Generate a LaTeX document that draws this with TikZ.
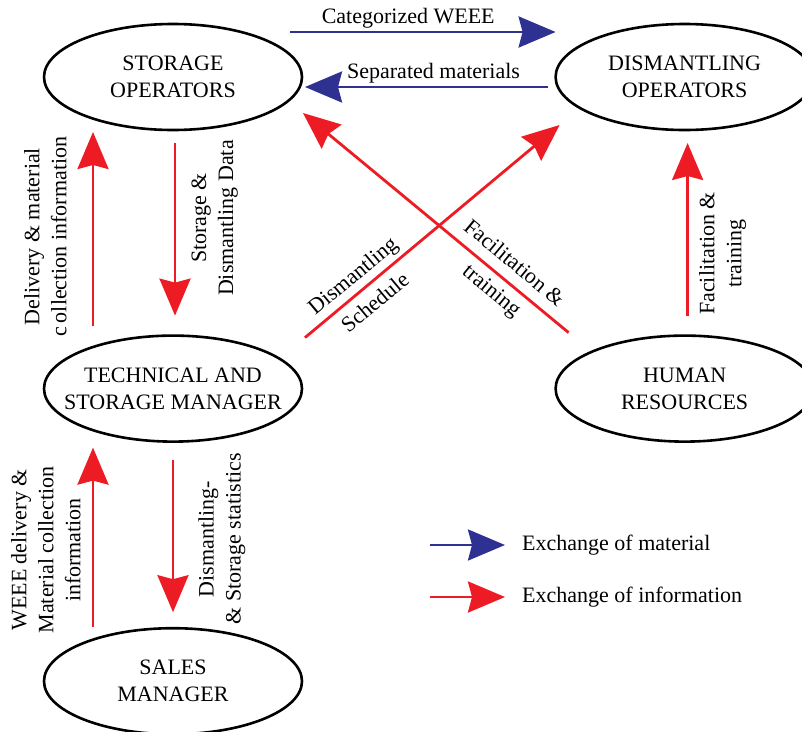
\documentclass[tikz,border=0pt]{standalone}
\usepackage{fontspec}
\setmainfont{Liberation Serif}
\usepackage{tikz}
\usetikzlibrary{arrows.meta,positioning,shapes.geometric}
\definecolor{matblue}{RGB}{46,49,146}
\definecolor{infored}{RGB}{237,28,36}

\begin{document}
\begin{tikzpicture}[
  x=1pt, y=-1pt,
  node distance=203pt and 251pt,
  actor/.style={draw, ellipse, line width=2.6pt, align=center, inner sep=0pt,
    minimum width=258pt, minimum height=106pt, font=\fontsize{22}{27}\selectfont},
  lbl/.style={align=center, inner sep=0pt, font=\fontsize{22}{27}\selectfont},
  uplbl/.style={lbl, rotate=90},
  matflow/.style={-{Stealth[length=37pt, width=31pt, inset=4pt]}, line width=2.8pt, draw=matblue},
  infoflow/.style={-{Stealth[length=37pt, width=31pt, inset=4pt]}, line width=2.8pt, draw=infored}
]
\useasboundingbox (0,0) rectangle (802,731);

\node[actor] (storops) at (173,77) {STORAGE\\OPERATORS};
\node[actor, right=of storops] (dismops) {DISMANTLING\\OPERATORS};
\node[actor, inner xsep=-20pt, below=of storops] (techmgr) {TECHNICAL AND\\STORAGE MANAGER};
\node[actor, right=of techmgr] (humres) {HUMAN\\RESOURCES};
\node[actor, below=184pt of techmgr] (salesmgr) {SALES\\MANAGER};

% material flows
\draw[matflow] ([shift={(117,-45)}]storops.center) -- node[lbl, above=2pt, pos=0.445] {Categorized WEEE} ([shift={(-129,-45)}]dismops.center);
\draw[matflow] ([shift={(-137,10)}]dismops.center) -- node[lbl, above=2pt, pos=0.47] {Separated materials} ([shift={(132,10)}]storops.center);

% information flows
\draw[infoflow] ([shift={(-80,-63)}]techmgr.center) -- node[uplbl, anchor=south, inner ysep=25pt, pos=0.46] {Delivery \& material\\c\,ollection information} ([shift={(-80,55)}]storops.center);
\draw[infoflow] ([shift={(2,66)}]storops.center) -- node[uplbl, anchor=north, inner ysep=15pt, pos=0.435] {Storage \&\\Dismantling Data} ([shift={(2,-73)}]techmgr.center);
\draw[infoflow] ([shift={(132,-51)}]techmgr.center) -- node[lbl, sloped, pos=0.23] {Dismantling\\[8pt]Schedule} ([shift={(-125,48)}]dismops.center);
\draw[infoflow] ([shift={(-116,-56)}]humres.center) -- node[lbl, sloped, pos=0.25] {Facilitation \&\\[8pt]training} ([shift={(130,36)}]storops.center);
\draw[infoflow] ([shift={(3,-73)}]humres.center) -- node[uplbl, anchor=north, inner ysep=10pt, pos=0.36] {Facilitation \&\\training} ([shift={(3,66)}]dismops.center);
\draw[infoflow] ([shift={(-80,-54)}]salesmgr.center) -- node[uplbl, anchor=south, inner ysep=11pt, pos=0.43] {WEEE delivery \&\\Material collection\\information} ([shift={(-80,59)}]techmgr.center);
\draw[infoflow] ([shift={(0,71)}]techmgr.center) -- node[uplbl, anchor=north, inner ysep=24pt, pos=0.52] {Dismantling-\\\& Storage statistics} ([shift={(0,-69)}]salesmgr.center);

% legend
\node[lbl, anchor=west] (matkey) at (522,545) {Exchange of material};
\node[lbl, anchor=west] (infokey) at (522,597) {Exchange of information};
\coordinate (matfrom) at ([xshift=-92pt]matkey.west);
\coordinate (infofrom) at ([xshift=-92pt]infokey.west);
\draw[matflow, shorten >=17pt] (matfrom) -- (matkey.west);
\draw[infoflow, shorten >=17pt] (infofrom) -- (infokey.west);
\end{tikzpicture}
\end{document}
